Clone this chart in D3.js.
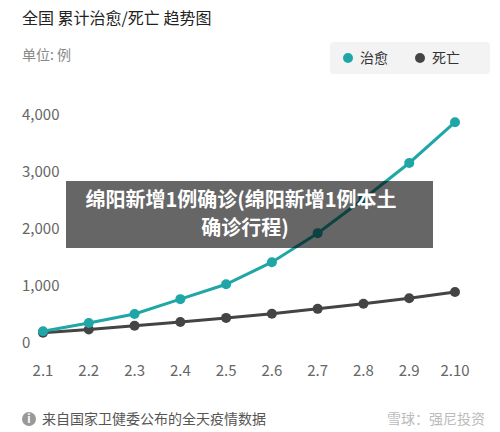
<!DOCTYPE html>
<html><head><meta charset="utf-8">
<script src="https://cdn.jsdelivr.net/npm/d3@7"></script>
<style>body{margin:0;background:#fff;font-family:"Noto Sans CJK SC","Noto Sans",sans-serif;}</style>
</head><body>
<svg id="chart" width="500" height="432"></svg>
<script>
const dates = ["2.1","2.2","2.3","2.4","2.5","2.6","2.7","2.8","2.9","2.10"];
const cured = [328,475,632,892,1153,1540,2050,2649,3281,3996];
const deaths = [304,361,425,490,563,636,722,811,908,1016];
const yTicks = [0,1000,2000,3000,4000];

const svg = d3.select("#chart");
const x = d3.scalePoint().domain(dates).range([43,455]);
const y = d3.scaleLinear().domain([0,4000]).range([350,122]);

svg.append("text").attr("x",22).attr("y",24).attr("font-size",16).attr("fill","#222").text("全国 累计治愈/死亡 趋势图");
svg.append("text").attr("x",22).attr("y",60).attr("font-size",14).attr("fill","#888").text("单位: 例");

const lg = svg.append("g");
lg.append("rect").attr("x",330).attr("y",42).attr("width",160).attr("height",32).attr("rx",4).attr("fill","#f3f3f3");
lg.append("circle").attr("cx",348).attr("cy",58).attr("r",5).attr("fill","#1fa6a6");
lg.append("text").attr("x",360).attr("y",63).attr("font-size",14).attr("fill","#333").text("治愈");
lg.append("circle").attr("cx",420).attr("cy",58).attr("r",5).attr("fill","#444");
lg.append("text").attr("x",432).attr("y",63).attr("font-size",14).attr("fill","#333").text("死亡");

svg.selectAll(".yt").data(yTicks).join("text").attr("class","yt")
  .attr("x",22).attr("y",d=>y(d)-2).attr("font-size",15).attr("fill","#666")
  .text(d=>d3.format(",")(d));
svg.selectAll(".xt").data(dates).join("text").attr("class","xt")
  .attr("x",d=>x(d)).attr("y",376).attr("text-anchor","middle").attr("font-size",15).attr("fill","#666").text(d=>d);

const line = d3.line().x((d,i)=>x(dates[i])).y(d=>y(d));
[[deaths,"#444"],[cured,"#1fa6a6"]].forEach(([s,c])=>{
  svg.append("path").attr("d",line(s)).attr("fill","none").attr("stroke",c).attr("stroke-width",3);
  svg.append("g").selectAll("circle").data(s).join("circle")
    .attr("cx",(d,i)=>x(dates[i])).attr("cy",d=>y(d)).attr("r",5).attr("fill",c);
});

svg.append("rect").attr("x",66).attr("y",181).attr("width",367).attr("height",67).attr("fill","rgba(0,0,0,0.6)");
svg.append("text").attr("x",241).attr("y",207).attr("text-anchor","middle").attr("font-size",20).attr("font-weight","bold").attr("fill","#fff").text("绵阳新增1例确诊(绵阳新增1例本土");
svg.append("text").attr("x",245).attr("y",235).attr("text-anchor","middle").attr("font-size",20).attr("font-weight","bold").attr("fill","#fff").text("确诊行程)");

svg.append("circle").attr("cx",29).attr("cy",419).attr("r",7).attr("fill","#999");
svg.append("text").attr("x",29).attr("y",423).attr("text-anchor","middle").attr("font-size",11).attr("font-weight","bold").attr("fill","#fff").text("i");
svg.append("text").attr("x",42).attr("y",424).attr("font-size",14).attr("fill","#555").text("来自国家卫健委公布的全天疫情数据");
svg.append("text").attr("x",485).attr("y",424).attr("text-anchor","end").attr("font-size",14).attr("fill","#bbb").text("雪球：强尼投资");
</script>
</body></html>
